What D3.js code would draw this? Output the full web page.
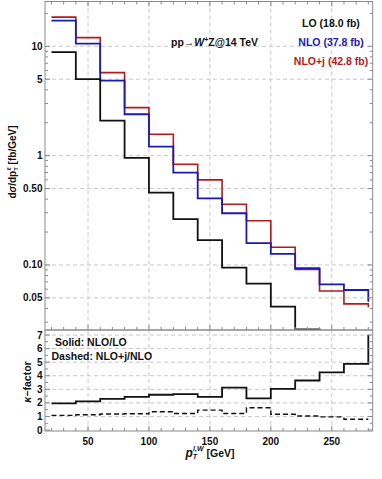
<!DOCTYPE html>
<html><head><meta charset="utf-8">
<script src="https://cdn.jsdelivr.net/npm/d3@7"></script>
<style>
body{margin:0;background:#fff;}
svg{display:block;font-family:"Liberation Sans",Arial,sans-serif;}
</style></head>
<body>
<svg id="c" width="382" height="479"></svg>
<script>
// ---- data ----
const binEdges = [20,40,60,80,100,120,140,160,180,200,220,240,260,280];
const lo    = [8.83,5.0,2.09,0.953,0.459,0.262,0.169,0.0945,0.0675,0.0416,0.0257,0.0157,0.0121,0.0066];
const nlo   = [17.2,10.6,4.86,2.39,1.21,0.699,0.407,0.297,0.158,0.126,0.0933,0.0665,0.059,0.046];
const nloj  = [18.5,12.0,5.75,2.75,1.57,0.834,0.60,0.359,0.254,0.145,0.091,0.0578,0.044,0.041];
const ratioSolid  = [1.96,2.11,2.30,2.45,2.60,2.65,2.45,3.13,2.34,3.03,3.65,4.25,4.87,7.0];
const ratioDashed = [1.08,1.13,1.18,1.20,1.35,1.22,1.47,1.22,1.64,1.16,1.03,0.97,0.80,0.80];
const xTicks = [50,100,150,200,250];
const yTopTicks = [0.05,0.1,0.5,1,5,10];
const yTopLabels = ["0.05","0.10","0.50","1","5","10"];
const yBotTicks = [0,1,2,3,4,5,6,7];
const legendLabels = ["LO (18.0 fb)","NLO (37.8 fb)","NLO+j (42.8 fb)"];

const colBlack="#111", colBlue="#1a1ab4", colRed="#b41a1a";
const svg = d3.select("#c");
const L=45, R=372.7, T=1.5, M=330, B=431;
const x = d3.scaleLinear().domain([14.7,283.6]).range([L,R]);
const yT = d3.scaleLog().domain([0.0254,25.7]).range([M,T]);
const yB = d3.scaleLinear().domain([-0.07,7.37]).range([B,M]);

svg.append("defs").append("clipPath").attr("id","cpT").append("rect")
  .attr("x",L).attr("y",T).attr("width",R-L).attr("height",M-T);
svg.select("defs").append("clipPath").attr("id","cpB").append("rect")
  .attr("x",L).attr("y",M).attr("width",R-L).attr("height",B-M);

const gridC="#c8c8c8";
// grids
const g = svg.append("g");
xTicks.forEach(v=>{
  g.append("line").attr("x1",x(v)).attr("x2",x(v)).attr("y1",T).attr("y2",M)
   .attr("stroke",gridC).attr("stroke-dasharray","4,3");
  g.append("line").attr("x1",x(v)).attr("x2",x(v)).attr("y1",M).attr("y2",B)
   .attr("stroke",gridC).attr("stroke-dasharray","4,3");
});
yTopTicks.forEach(v=>{
  g.append("line").attr("x1",L).attr("x2",R).attr("y1",yT(v)).attr("y2",yT(v))
   .attr("stroke",gridC).attr("stroke-dasharray","4,3");
});
yBotTicks.slice(1).forEach(v=>{
  g.append("line").attr("x1",L).attr("x2",R).attr("y1",yB(v)).attr("y2",yB(v))
   .attr("stroke",gridC).attr("stroke-dasharray","4,3");
});

// step lines
function stepLine(ys, vals){
  return d3.line().x((d,i)=>x(binEdges[i])).y(d=>ys(d)).curve(d3.curveStepAfter)(vals);
}
const topG = svg.append("g").attr("clip-path","url(#cpT)");
topG.append("path").attr("d",stepLine(yT,nloj)).attr("fill","none").attr("stroke",colRed).attr("stroke-width",1.6);
topG.append("path").attr("d",stepLine(yT,nlo)).attr("fill","none").attr("stroke",colBlue).attr("stroke-width",1.8);
topG.append("path").attr("d",stepLine(yT,lo)).attr("fill","none").attr("stroke",colBlack).attr("stroke-width",1.8);
const botG = svg.append("g").attr("clip-path","url(#cpB)");
botG.append("path").attr("d",stepLine(yB,ratioSolid)).attr("fill","none").attr("stroke",colBlack).attr("stroke-width",1.8);
botG.append("path").attr("d",stepLine(yB,ratioDashed)).attr("fill","none").attr("stroke",colBlack).attr("stroke-width",1.4).attr("stroke-dasharray","5,3");

// frames
const frameC="#8a8a8a";
svg.append("rect").attr("x",L).attr("y",T).attr("width",R-L).attr("height",M-T).attr("fill","none").attr("stroke",frameC);
svg.append("rect").attr("x",L).attr("y",M).attr("width",R-L).attr("height",B-M).attr("fill","none").attr("stroke",frameC);

// ticks
const tk = svg.append("g").attr("stroke",frameC);
const xMinor = d3.range(20,290,10);
xMinor.forEach(v=>{
  const len = (v%50===0)?5:3;
  tk.append("line").attr("x1",x(v)).attr("x2",x(v)).attr("y1",T).attr("y2",T+len);
  tk.append("line").attr("x1",x(v)).attr("x2",x(v)).attr("y1",M).attr("y2",M-len);
  tk.append("line").attr("x1",x(v)).attr("x2",x(v)).attr("y1",B).attr("y2",B-len);
});
// log minor ticks
const logT=[];
[0.01,0.1,1,10].forEach(p=>{for(let k=1;k<10;k++){const v=p*k; if(v>=0.0254&&v<=25.7) logT.push(v);}});
logT.forEach(v=>{
  const major = yTopTicks.includes(+v.toPrecision(3));
  const len = major?5:3;
  tk.append("line").attr("x1",L).attr("x2",L+len).attr("y1",yT(v)).attr("y2",yT(v));
  tk.append("line").attr("x1",R).attr("x2",R-len).attr("y1",yT(v)).attr("y2",yT(v));
});
d3.range(0,7.5,0.5).forEach(v=>{
  const len=(v%1===0)?5:3;
  tk.append("line").attr("x1",L).attr("x2",L+len).attr("y1",yB(v)).attr("y2",yB(v));
  tk.append("line").attr("x1",R).attr("x2",R-len).attr("y1",yB(v)).attr("y2",yB(v));
});

// tick labels
const lab = svg.append("g").attr("font-size","10px").attr("font-weight","bold").attr("fill","#111");
yTopTicks.forEach((v,i)=>{
  lab.append("text").attr("x",42.5).attr("y",yT(v)).attr("dy","0.35em").attr("text-anchor","end").text(yTopLabels[i]);
});
yBotTicks.forEach(v=>{
  lab.append("text").attr("x",42.5).attr("y",yB(v)).attr("dy","0.35em").attr("text-anchor","end").text(v);
});
xTicks.forEach(v=>{
  lab.append("text").attr("x",x(v)).attr("y",444.5).attr("text-anchor","middle").text(v);
});

// axis titles
const xt = svg.append("text").attr("x",210).attr("y",456.5).attr("text-anchor","middle")
  .attr("font-size","10.5px").attr("font-weight","bold").attr("fill","#111");
xt.append("tspan").attr("font-style","italic").attr("font-size","12px").text("p");
xt.append("tspan").attr("font-style","italic").attr("font-size","7px").attr("dy","2").text("T");
xt.append("tspan").attr("font-style","italic").attr("font-size","7px").attr("dx","-4").attr("dy","-8").text("l,W");
xt.append("tspan").attr("dy","6").text(" [GeV]");

const yt = svg.append("text").attr("transform","translate(16,162) rotate(-90)").attr("text-anchor","middle")
  .attr("font-size","10px").attr("font-weight","bold").attr("fill","#111");
yt.append("tspan").text("d");
yt.append("tspan").attr("font-style","italic").text("σ");
yt.append("tspan").text("/dp");
yt.append("tspan").attr("font-size","6px").attr("dy","2").text("T");
yt.append("tspan").attr("font-size","6px").attr("dx","-3").attr("dy","-7").text("ℓ");
yt.append("tspan").attr("dy","5").text(" [fb/GeV]");

const kt = svg.append("text").attr("transform","translate(31,382) rotate(-90)").attr("text-anchor","middle")
  .attr("font-size","10.5px").attr("font-weight","bold").attr("fill","#111");
kt.append("tspan").attr("font-style","italic").text("κ");
kt.append("tspan").text("−factor");

// process label
const pl = svg.append("text").attr("x",171).attr("y",45.5).attr("font-size","10.5px").attr("font-weight","bold").attr("fill","#111");
pl.append("tspan").text("pp→");
pl.append("tspan").attr("font-style","italic").text("W");
pl.append("tspan").attr("font-size","7px").attr("dy","-4").text("+");
pl.append("tspan").attr("dy","4").text("Z@14 TeV");

// legend
const legCols=[colBlack,colBlue,colRed];
const legY=[27,45.5,65];
legendLabels.forEach((t,i)=>{
  svg.append("text").attr("x",331).attr("y",legY[i]).attr("text-anchor","middle")
    .attr("font-size","10.5px").attr("font-weight","bold").attr("fill",legCols[i]).text(t);
});

// ratio panel notes
svg.append("text").attr("x",55).attr("y",345.5).attr("font-size","10.5px").attr("font-weight","bold").attr("fill","#111").text("Solid: NLO/LO");
svg.append("text").attr("x",51.5).attr("y",360).attr("font-size","10.5px").attr("font-weight","bold").attr("fill","#111").text("Dashed: NLO+j/NLO");
</script>
</body></html>
